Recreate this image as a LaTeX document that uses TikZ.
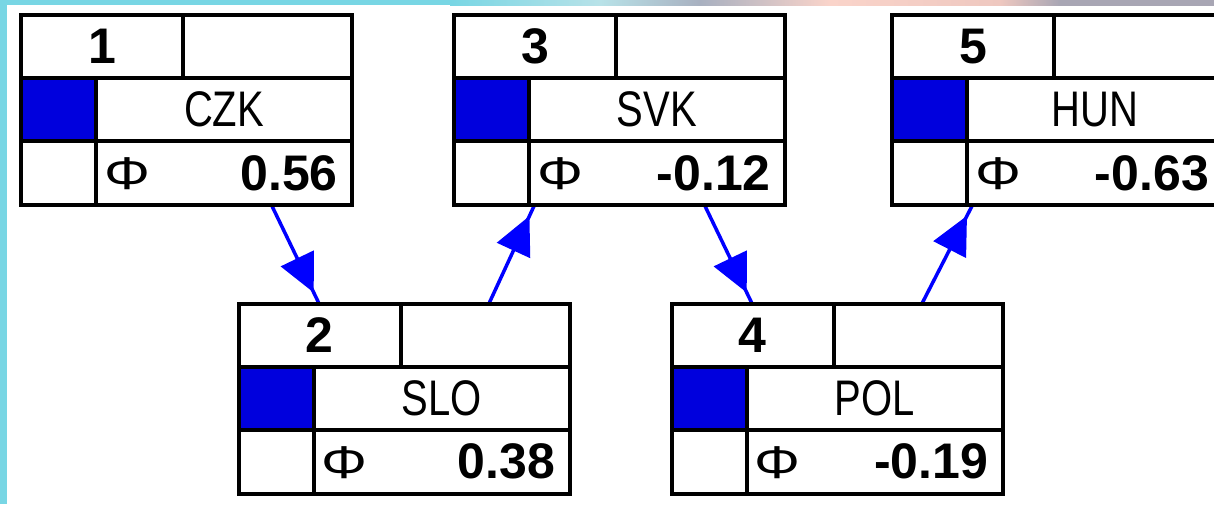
\documentclass[tikz,border=0pt]{standalone}
\usepackage{fontspec}
\setmainfont{Liberation Sans}
\newfontfamily\codefont[FakeStretch=0.8]{Liberation Sans}
\newfontfamily\phifont[FakeStretch=1.25]{Liberation Sans}
\usetikzlibrary{arrows.meta,decorations.markings,backgrounds}
\definecolor{cellblue}{RGB}{0,0,221}
\definecolor{linkblue}{RGB}{0,0,255}
\definecolor{deskcyan}{RGB}{120,214,228}
\definecolor{deskpale}{RGB}{184,226,232}
\definecolor{deskgray}{RGB}{168,176,192}
\definecolor{deskpeach}{RGB}{250,212,202}
\definecolor{deskrose}{RGB}{238,200,192}
\definecolor{deskmauve}{RGB}{168,166,180}
\tikzset{
  cbox/.style={fill=white, minimum width=331pt, minimum height=190pt, inner sep=0pt, outer sep=0pt},
  grid/.style={line width=4pt},
  numtext/.style={font=\fontsize{50}{50}\selectfont\bfseries, inner sep=0pt},
  codetext/.style={font=\codefont\fontsize{50}{50}\selectfont, inner sep=0pt},
  phitext/.style={font=\phifont\fontsize{46}{46}\selectfont, inner sep=0pt},
  valtext/.style={font=\fontsize{50}{50}\selectfont\bfseries, inner sep=0pt, anchor=east},
  link/.style={draw, color=linkblue, line width=3.5pt, postaction={decorate},
    decoration={markings, mark=at position -12pt with {\arrow{Triangle[length=38pt,width=36pt]}}}}
}
\begin{document}
\begin{tikzpicture}[x=1pt,y=-1pt]
\useasboundingbox (0,0) rectangle (1214,504);
\clip (0,0) rectangle (1214,504);
% country boxes
\foreach \n/\x/\y/\code/\val in {1/21/15/CZK/0.56, 2/238.5/303.5/SLO/0.38, 3/454/15/SVK/-0.12, 4/671.5/303.5/POL/-0.19, 5/892/15/HUN/-0.63}{
  \node[cbox] (c\n) at (\x+165.5,\y+95) {};
  \fill[cellblue] (\x,\y+63) rectangle (\x+75,\y+126);
  \draw[grid] (\x,\y+63) -- (\x+331,\y+63) (\x,\y+126) -- (\x+331,\y+126)
    (\x+162,\y) -- (\x+162,\y+63) (\x+75,\y+63) -- (\x+75,\y+190);
  \draw[grid] (\x,\y) rectangle (\x+331,\y+190);
  \node[numtext] (n\n) at (\x+81,\y+31.5) {\n};
  \node[codetext] (k\n) at (\x+203,\y+94.5) {\code};
  \node[phitext] (p\n) at (\x+106,\y+159) {Φ};
  \node[valtext] (v\n) at (\x+317,\y+158) {\val};
}
\begin{scope}[on background layer]
\fill[white] (0,0) rectangle (1214,504);
\fill[deskcyan] (0,0) rectangle (7,504);
\fill[deskcyan] (0,0) rectangle (450,5);
\foreach \a/\b/\ca/\cb in {450/600/deskcyan/deskpale, 600/700/deskpale/deskgray, 700/830/deskgray/deskpeach, 830/1000/deskpeach/deskrose, 1000/1060/deskrose/deskmauve, 1060/1214/deskmauve/deskmauve}
  \shade[left color=\ca, right color=\cb] (\a,0) rectangle (\b,5);
% links
\draw[link] ([xshift=85pt]c1.south) -- ([xshift=-85pt]c2.north);
\draw[link] ([xshift=85pt]c2.north) -- ([xshift=-85pt]c3.south);
\draw[link] ([xshift=85pt]c3.south) -- ([xshift=-85pt]c4.north);
\draw[link] ([xshift=85pt]c4.north) -- ([xshift=-85pt]c5.south);
\end{scope}
\end{tikzpicture}
\end{document}
